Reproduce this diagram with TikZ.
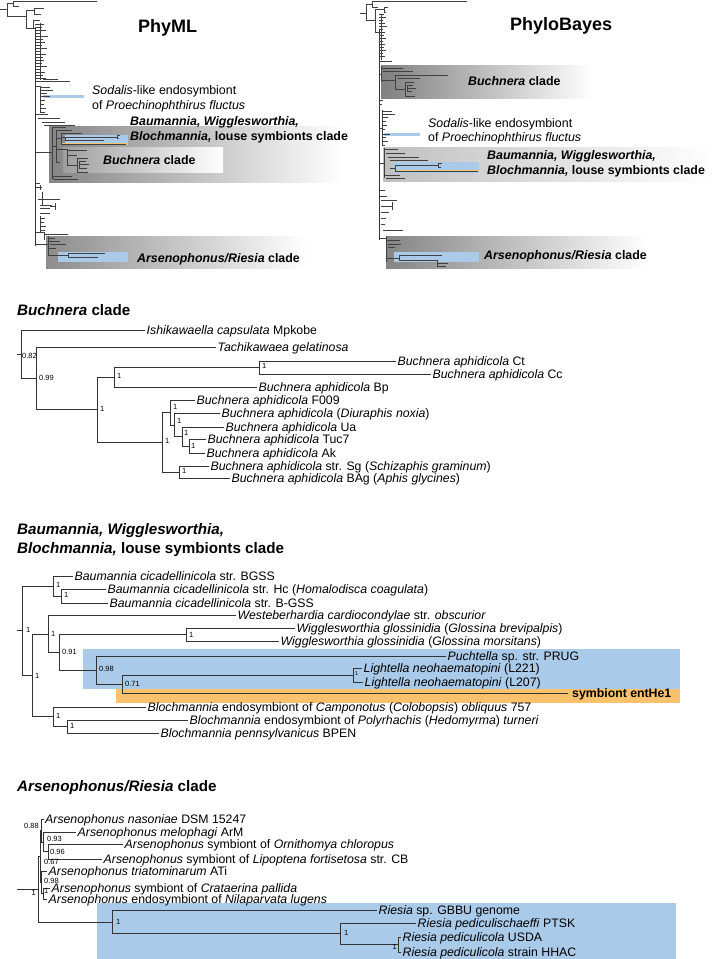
\documentclass[tikz,border=0pt]{standalone}
\usepackage{fontspec}
\setmainfont{Liberation Sans}
\definecolor{lblue}{RGB}{170,202,233}
\definecolor{lorange}{RGB}{252,193,108}
\tikzset{
  br/.style={line width=0.9pt, draw=black!80},
  mini/.style={line width=0.55pt, draw=black!75},
  leaf/.style={anchor=west, font=\fontsize{12.3}{14}\selectfont, inner xsep=1.5pt, inner ysep=0pt, text height=8.8pt, text depth=0pt},
  supp/.style={anchor=west, font=\fontsize{7.5}{8}\selectfont, inner sep=0pt, text height=5.4pt, text depth=0pt},
  sect/.style={anchor=base west, font=\bfseries\fontsize{15.2}{17}\selectfont, inner sep=0pt},
  clab/.style={anchor=base west, font=\bfseries\fontsize{12.4}{14}\selectfont, inner sep=0pt},
  plab/.style={anchor=base west, font=\fontsize{12.4}{14}\selectfont, inner sep=0pt},
  ttl/.style={anchor=base west, font=\bfseries\fontsize{18}{20}\selectfont, inner sep=0pt},
}
\begin{document}
\begin{tikzpicture}[x=1pt,y=-1pt]
\fill[white] (0,0) rectangle (712,959);
\useasboundingbox (0,0) rectangle (712,959);

% ================= TOP LEFT: PhyML overview =================
\shade[left color=black!48, right color=white] (49,126) rectangle (343,182);
\shade[left color=black!38, right color=white] (63,147) rectangle (223,172);
\shade[left color=black!45, right color=white] (46,236) rectangle (307,268);
\fill[lblue] (43,94.5) rectangle (84,97.5);
\fill[lblue] (65,135) rectangle (128,143);
\fill[lorange] (62,142.8) rectangle (128,145.2);
\fill[lblue] (58,252) rectangle (128,262);

\draw[mini] (0,9)--(7,9) (7,3)--(7,16) (7,3)--(13,3) (13,1)--(13,6) (13,1)--(97,1) (13,6)--(19,6)
  (7,16)--(26,16) (26,10)--(26,28) (26,10)--(34,10) (34,8)--(34,14) (34,8)--(44,8) (34,14)--(41,14)
  (26,28)--(35,28) (33,20)--(33,28) (33,20)--(40,20);
\draw[br] (35,28)--(35,246);
\draw[mini, line width=0.9pt] (40,23)--(40,80);
\foreach \y/\l in {24/44,27/42,30/46,33/41,36/48,39/43,42/45,45/42,48/47,51/41,54/46,57/43,60/44,63/42,66/47,69/41,72/45,75/43,78/46}
  \draw[mini] (35,\y)--(\l,\y);
\draw[mini] (36,81)--(70,81) (43,79)--(58,79)
  (35,86)--(40,86) (40,86)--(40,112) (40,87)--(50,87) (40,90)--(53,90) (40,93)--(47,93) (40,96)--(50,96)
  (40,100)--(45,100) (40,104)--(44,104) (40,108)--(46,108) (40,112)--(45,112)
  (36,114)--(48,114) (38,118)--(60,118) (42,122)--(65,122) (44,125)--(75,125);
% inside BWB box
\draw[mini] (35,152)--(52,152) (52,127)--(52,178) (52,127)--(66,127)
  (52,146)--(56,146) (56,130)--(56,162) (56,130)--(72,130)
  (56,138)--(61,138) (61,133)--(61,144) (61,133)--(82,133)
  (61,137)--(117,137) (117,135.5)--(117,138.5) (117,135.5)--(120,135.5) (117,138.5)--(119,138.5)
  (65,137)--(65,140) (65,140)--(104,140) (61,144)--(126,144)
  (56,149)--(67,149) (67,149)--(67,165) (67,150)--(87,150) (67,155)--(77,155)
  (67,165)--(77,165) (77,158)--(77,172) (77,158)--(88,158) (79,161)--(86,161) (79,164)--(89,164)
  (79,168)--(87,168) (77,172)--(88,172) (79,161)--(79,168)
  (56,162)--(60,162) (52,176)--(72,176) (52,178)--(54,178) (54,179)--(78,179);
% below
\draw[mini] (35,183)--(40,183) (36,187)--(42,187) (40,185)--(40,190) (38,199)--(60,199) (42,192)--(42,206)
  (40,205)--(52,205) (40,208)--(50,208) (55,203)--(55,210) (50,206.5)--(55,206.5)
  (40,213)--(50,213) (40,218)--(45,218) (40,222)--(44,222) (40,226)--(46,226) (40,230)--(45,230) (40,216)--(40,232)
  (35,232)--(44,232) (44,234)--(68,234) (44,232)--(44,240) (35,244)--(48,244)
  (48,236)--(48,256) (48,238)--(55,238) (48,241)--(60,241) (50,244)--(66,244) (48,248)--(56,248)
  (48,255)--(58,255) (58,255)--(68,255) (68,253)--(68,257) (68,253)--(105,253) (68,257)--(98,257);

\node[ttl] (t-phyml) at (138,32) {PhyML};
\node[plab] (p-sod1) at (92,94.5) {\textit{Sodalis}-like endosymbiont};
\node[plab] (p-sod2) at (92,109.5) {of \textit{Proechinophthirus fluctus}};
\node[clab] (p-bwb1) at (130,125) {\textit{Baumannia, Wigglesworthia,}};
\node[clab] (p-bwb2) at (130,140.7) {\textit{Blochmannia,} louse symbionts clade};
\node[clab] (p-buch) at (103,164) {\textit{Buchnera} clade};
\node[clab] (p-ars) at (137,262.7) {\textit{Arsenophonus/Riesia} clade};

% ================= TOP RIGHT: PhyloBayes overview =================
\shade[left color=black!50, right color=white] (381,65) rectangle (593,98);
\shade[left color=black!25, right color=white] (383,147) rectangle (712,181);
\shade[left color=black!48, right color=white] (386,236) rectangle (647,268);
\fill[lblue] (384,132.5) rectangle (420,135.5);
\fill[lblue] (393,162) rectangle (479,173);
\fill[lorange] (395,169.8) rectangle (479,172.4);
\fill[lblue] (394,252) rectangle (479,262);

\draw[mini] (360,13)--(366,13) (366,4)--(366,20) (366,4)--(372,4) (372,1)--(372,7) (372,1)--(467,1) (372,7)--(378,7)
  (366,20)--(375,20) (375,9)--(375,32) (375,9)--(384,9) (384,7)--(384,12) (384,7)--(388,7) (384,12)--(386,12) (375,32)--(379,32);
\draw[br] (379,30)--(379,240);
\draw[mini, line width=0.9pt] (381,14)--(381,60);
\foreach \y/\l in {14/384,17/386,20/383,23/385,26/387,29/383,32/385,35/384,38/386,41/383,44/385,47/384,50/386,53/383,56/385}
  \draw[mini] (379,\y)--(\l,\y);
\draw[mini] (379,61)--(392,61)
  (379,74)--(381,74) (381,66)--(381,82) (381,68)--(403,68) (383,71)--(413,71) (381,80)--(395,80)
  (395,75)--(395,89) (395,75)--(448,75) (398,78)--(420,78)
  (395,89)--(405,89) (405,82)--(405,96) (405,82)--(414,82) (407,85)--(413,85) (407,88)--(416,88) (407,91)--(412,91) (405,96)--(415,96) (407,85)--(407,91)
  (379,100)--(383,100) (379,104)--(382,104)
  (379,128)--(382,128) (382,110)--(382,146) (382,111)--(392,111) (382,114)--(395,114) (382,117)--(388,117)
  (382,121)--(386,121) (382,125)--(387,125) (382,129)--(385,129) (382,134)--(390,134) (382,137)--(386,137) (382,141)--(388,141) (382,145)--(385,145)
  (379,163)--(384,163) (384,148)--(384,178) (384,149)--(398,149) (386,153)--(405,153) (388,157)--(419,157) (390,160)--(428,160)
  (390,168)--(395,168) (395,165)--(395,171) (395,165)--(438,165) (438,163)--(438,167) (438,163)--(442,163) (438,167)--(441,167)
  (395,171)--(478,171)
  (384,175)--(400,175) (386,178)--(405,178)
  (379,190)--(385,190) (379,196)--(387,196) (381,200)--(397,200) (381,206)--(392,206) (392,202)--(392,210)
  (381,212)--(389,212) (381,218)--(386,218) (381,224)--(385,224) (383,230)--(403,230)
  (379,238)--(386,238) (386,236)--(386,262) (386,240)--(400,240) (388,244)--(401,244) (388,247)--(395,247)
  (386,258)--(399,258) (399,255)--(399,260) (399,255)--(442,255) (399,260)--(437,260)
  (437,260)--(437,266) (437,263)--(448,263) (437,266)--(446,266);

\node[ttl] (t-pb) at (510,30) {PhyloBayes};
\node[clab] (q-buch) at (468,85) {\textit{Buchnera} clade};
\node[plab] (q-sod1) at (428,127.7) {\textit{Sodalis}-like endosymbiont};
\node[plab] (q-sod2) at (428,141.7) {of \textit{Proechinophthirus fluctus}};
\node[clab] (q-bwb1) at (487,159) {\textit{Baumannia, Wigglesworthia,}};
\node[clab] (q-bwb2) at (487,174.3) {\textit{Blochmannia,} louse symbionts clade};
\node[clab] (q-ars) at (484,259.3) {\textit{Arsenophonus/Riesia} clade};

% ================= Buchnera clade =================
\node[sect] (t-buch) at (17,315) {\textit{Buchnera} clade};
\coordinate (b-r0) at (17,354);
\coordinate (b-root) at (21,354);
\coordinate (b-n1) at (36,378);
\coordinate (b-n2) at (97,409.5);
\coordinate (b-n3) at (114,377);
\coordinate (b-n4) at (259,367.5);
\coordinate (b-n5) at (162,442);
\coordinate (b-n6) at (170,412.5);
\coordinate (b-n7) at (174,425);
\coordinate (b-n8) at (182,436.5);
\coordinate (b-n9) at (189,446);
\coordinate (b-n10) at (179,472);
\node[leaf] (ish) at (145,330) {\textit{Ishikawaella capsulata} Mpkobe};
\node[leaf] (tach) at (216,347) {\textit{Tachikawaea gelatinosa}};
\node[leaf] (ct) at (396,361) {\textit{Buchnera aphidicola} Ct};
\node[leaf] (cc) at (431,374) {\textit{Buchnera aphidicola} Cc};
\node[leaf] (bp) at (257,387) {\textit{Buchnera aphidicola} Bp};
\node[leaf] (f009) at (195,400) {\textit{Buchnera aphidicola} F009};
\node[leaf] (diu) at (220,413) {\textit{Buchnera aphidicola} (\textit{Diuraphis noxia})};
\node[leaf] (ua) at (224,427) {\textit{Buchnera aphidicola} Ua};
\node[leaf] (tuc) at (206,439) {\textit{Buchnera aphidicola} Tuc7};
\node[leaf] (ak) at (205,453) {\textit{Buchnera aphidicola} Ak};
\node[leaf] (sg) at (209,466) {\textit{Buchnera aphidicola} str. Sg (\textit{Schizaphis graminum})};
\node[leaf] (bag) at (230,478) {\textit{Buchnera aphidicola} BAg (\textit{Aphis glycines})};
\draw[br] (b-r0) -- (b-root);
\draw[br] (b-root) |- (ish.west);
\draw[br] (b-root) |- (b-n1);
\draw[br] (b-n1) |- (tach.west);
\draw[br] (b-n1) |- (b-n2);
\draw[br] (b-n2) |- (b-n3);
\draw[br] (b-n2) |- (b-n5);
\draw[br] (b-n3) |- (b-n4);
\draw[br] (b-n3) |- (bp.west);
\draw[br] (b-n4) |- (ct.west);
\draw[br] (b-n4) |- (cc.west);
\draw[br] (b-n5) |- (b-n6);
\draw[br] (b-n5) |- (b-n10);
\draw[br] (b-n6) |- (f009.west);
\draw[br] (b-n6) |- (b-n7);
\draw[br] (b-n7) |- (diu.west);
\draw[br] (b-n7) |- (b-n8);
\draw[br] (b-n8) |- (ua.west);
\draw[br] (b-n8) |- (b-n9);
\draw[br] (b-n9) |- (tuc.west);
\draw[br] (b-n9) |- (ak.west);
\draw[br] (b-n10) |- (sg.west);
\draw[br] (b-n10) |- (bag.west);
\node[supp] (s-b0) at (22,356) {0.82};
\node[supp] (s-b1) at (39,378) {0.99};
\node[supp] (s-b2) at (100,409) {1};
\node[supp] (s-b3) at (117,376) {1};
\node[supp] (s-b4) at (262,366) {1};
\node[supp] (s-b5) at (165,441) {1};
\node[supp] (s-b6) at (173,407) {1};
\node[supp] (s-b7) at (177,421) {1};
\node[supp] (s-b8) at (184,433) {1};
\node[supp] (s-b9) at (191,446) {1};
\node[supp] (s-b10) at (182,471) {1};

% ================= Baumannia clade =================
\node[sect] (t-bau1) at (17,534) {\textit{Baumannia, Wigglesworthia,}};
\node[sect] (t-bau2) at (17,553) {\textit{Blochmannia,} louse symbionts clade};
\fill[lblue] (83,649) rectangle (680,689);
\fill[lorange] (116,689) rectangle (680,703);
\coordinate (ba-r0) at (17,630.5);
\coordinate (ba-root) at (22,630.5);
\coordinate (ba-n1) at (53,586);
\coordinate (ba-n2) at (61,596);
\coordinate (ba-n3) at (32,675.5);
\coordinate (ba-n4) at (48,634);
\coordinate (ba-n5) at (59,652);
\coordinate (ba-n6) at (186,634.5);
\coordinate (ba-n7) at (96,670);
\coordinate (ba-n8) at (122,684);
\coordinate (ba-n9) at (353,675);
\coordinate (ba-n10) at (53,716.5);
\coordinate (ba-n11) at (67,726.5);
\node[leaf] (bgss) at (73,576) {\textit{Baumannia cicadellinicola} str. BGSS};
\node[leaf] (hc) at (106,589) {\textit{Baumannia cicadellinicola} str. Hc (\textit{Homalodisca coagulata})};
\node[leaf] (bgss2) at (108,603) {\textit{Baumannia cicadellinicola} str. B-GSS};
\node[leaf] (west) at (236,615) {\textit{Westeberhardia cardiocondylae} str. \textit{obscurior}};
\node[leaf] (wbrev) at (295,628) {\textit{Wigglesworthia glossinidia} (\textit{Glossina brevipalpis})};
\node[leaf] (wmors) at (279,641) {\textit{Wigglesworthia glossinidia} (\textit{Glossina morsitans})};
\node[leaf] (puch) at (446,656) {\textit{Puchtella} sp. str. PRUG};
\node[leaf] (l221) at (362,668) {\textit{Lightella neohaematopini} (L221)};
\node[leaf] (l207) at (363,682) {\textit{Lightella neohaematopini} (L207)};
\node[leaf, inner xsep=4pt, font=\bfseries\fontsize{12.3}{14}\selectfont] (ent) at (568,693) {symbiont entHe1};
\node[leaf] (camp) at (146,707) {\textit{Blochmannia} endosymbiont of \textit{Camponotus} (\textit{Colobopsis}) \textit{obliquus} 757};
\node[leaf] (poly) at (188,720) {\textit{Blochmannia} endosymbiont of \textit{Polyrhachis} (\textit{Hedomyrma}) \textit{turneri}};
\node[leaf] (bpen) at (159,733) {\textit{Blochmannia pennsylvanicus} BPEN};
\draw[br] (ba-r0) -- (ba-root);
\draw[br] (ba-root) |- (ba-n1);
\draw[br] (ba-root) |- (ba-n3);
\draw[br] (ba-n1) |- (bgss.west);
\draw[br] (ba-n1) |- (ba-n2);
\draw[br] (ba-n2) |- (hc.west);
\draw[br] (ba-n2) |- (bgss2.west);
\draw[br] (ba-n3) |- (ba-n4);
\draw[br] (ba-n3) |- (ba-n10);
\draw[br] (ba-n4) |- (west.west);
\draw[br] (ba-n4) |- (ba-n5);
\draw[br] (ba-n5) |- (ba-n6);
\draw[br] (ba-n5) |- (ba-n7);
\draw[br] (ba-n6) |- (wbrev.west);
\draw[br] (ba-n6) |- (wmors.west);
\draw[br] (ba-n7) |- (puch.west);
\draw[br] (ba-n7) |- (ba-n8);
\draw[br] (ba-n8) |- (ba-n9);
\draw[br] (ba-n8) |- (ent.west);
\draw[br] (ba-n9) |- (l221.west);
\draw[br] (ba-n9) |- (l207.west);
\draw[br] (ba-n10) |- (camp.west);
\draw[br] (ba-n10) |- (ba-n11);
\draw[br] (ba-n11) |- (poly.west);
\draw[br] (ba-n11) |- (bpen.west);
\node[supp] (s-ba0) at (26,630) {1};
\node[supp] (s-ba1) at (56,585) {1};
\node[supp] (s-ba2) at (64,595) {1};
\node[supp] (s-ba3) at (35,676) {1};
\node[supp] (s-ba4) at (51,634) {1};
\node[supp] (s-ba5) at (62,652) {0.91};
\node[supp] (s-ba6) at (189,635) {1};
\node[supp] (s-ba7) at (99,669) {0.98};
\node[supp] (s-ba8) at (125,684) {0.71};
\node[supp, font=\fontsize{5.5}{6}\selectfont] (s-ba9) at (355,673) {1};
\node[supp] (s-ba10) at (56,716) {1};
\node[supp] (s-ba11) at (70,726) {1};

% ================= Arsenophonus / Riesia clade =================
\node[sect] (t-ars) at (17,791) {\textit{Arsenophonus/Riesia} clade};
\fill[lblue] (97,903) rectangle (676,959);
\coordinate (ar-r0) at (17,889);
\coordinate (ar-root) at (38,889);
\coordinate (ar-A) at (40,856);
\coordinate (ar-N1) at (41.5,830.5);
\coordinate (ar-N2) at (43,842);
\coordinate (ar-N3) at (48.5,851.5);
\coordinate (ar-M1) at (41.5,882);
\coordinate (ar-M2) at (43,893.5);
\coordinate (ar-R1) at (112,922);
\coordinate (ar-R2) at (340,933.5);
\coordinate (ar-R3) at (398,944.5);
\node[leaf] (nas) at (43.5,819) {\textit{Arsenophonus nasoniae} DSM 15247};
\node[leaf] (mel) at (76,832) {\textit{Arsenophonus melophagi} ArM};
\node[leaf] (orn) at (123,844) {\textit{Arsenophonus} symbiont of \textit{Ornithomya chloropus}};
\node[leaf] (lip) at (102,859) {\textit{Arsenophonus} symbiont of \textit{Lipoptena fortisetosa} str. CB};
\node[leaf] (tri) at (47,871) {\textit{Arsenophonus triatominarum} ATi};
\node[leaf] (cra) at (50,888) {\textit{Arsenophonus} symbiont of \textit{Crataerina pallida}};
\node[leaf] (nil) at (47,899) {\textit{Arsenophonus} endosymbiont of \textit{Nilaparvata lugens}};
\node[leaf] (gbbu) at (377,910) {\textit{Riesia} sp. GBBU genome};
\node[leaf] (ptsk) at (416,923) {\textit{Riesia pediculischaeffi} PTSK};
\node[leaf] (usda) at (401,937) {\textit{Riesia pediculicola} USDA};
\node[leaf] (hhac) at (401,952) {\textit{Riesia pediculicola} strain HHAC};
\draw[br] (ar-r0) -- (ar-root);
\draw[br] (ar-root) |- (ar-A);
\draw[br] (ar-root) |- (ar-R1);
\draw[br] (ar-A) |- (ar-N1);
\draw[br] (ar-A) |- (ar-M1);
\draw[br] (ar-N1) |- (nas.west);
\draw[br] (ar-N1) |- (ar-N2);
\draw[br] (ar-N2) |- (mel.west);
\draw[br] (ar-N2) |- (ar-N3);
\draw[br] (ar-N3) |- (orn.west);
\draw[br] (ar-N3) |- (lip.west);
\draw[br] (ar-M1) |- (tri.west);
\draw[br] (ar-M1) |- (ar-M2);
\draw[br] (ar-M2) |- (cra.west);
\draw[br] (ar-M2) |- (nil.west);
\draw[br] (ar-R1) |- (gbbu.west);
\draw[br] (ar-R1) |- (ar-R2);
\draw[br] (ar-R2) |- (ptsk.west);
\draw[br] (ar-R2) |- (ar-R3);
\draw[br] (ar-R3) |- (usda.west);
\draw[br] (ar-R3) |- (hhac.west);
\node[supp, anchor=east] (s-ar0) at (36,893) {1};
\node[supp, anchor=east] (s-ar1) at (39,826) {0.88};
\node[supp] (s-ar2) at (47,839) {0.93};
\node[supp] (s-ar3) at (50,852) {0.96};
\node[supp] (s-ar4) at (44,861.5) {0.67};
\node[supp] (s-ar5) at (44,880.5) {0.98};
\node[supp] (s-ar6) at (44,890.5) {1};
\node[supp] (s-ar7) at (116,922) {1};
\node[supp] (s-ar8) at (344,933) {1};
\node[supp, anchor=east] (s-ar9) at (397,947) {1};
\end{tikzpicture}
\end{document}
